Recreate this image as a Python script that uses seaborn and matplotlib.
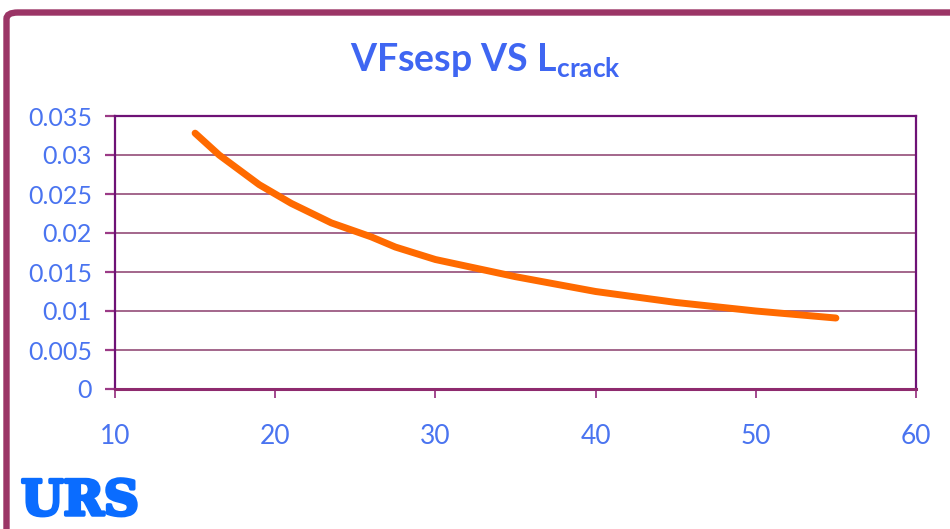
import matplotlib
matplotlib.use("Agg")
import matplotlib.pyplot as plt
from matplotlib.patches import FancyBboxPatch
from matplotlib.ticker import FuncFormatter
import matplotlib.patheffects as pe
import numpy as np
import pandas as pd
import seaborn as sns

# Crack length and VFsesp values
crack_length = [15, 16.5, 19, 21, 23.5, 26, 27.5, 30, 35, 40, 45, 50, 55]
vfsesp = [0.0328, 0.0300, 0.0262, 0.0238, 0.0213, 0.0195, 0.0182,
          0.0166, 0.0144, 0.0125, 0.0111, 0.0100, 0.0091]
x_ticks = [10, 20, 30, 40, 50, 60]
y_ticks = [0, 0.005, 0.01, 0.015, 0.02, 0.025, 0.03, 0.035]

df = pd.DataFrame({"L_crack": crack_length, "VFsesp": vfsesp})

sns.set_style("white")
plt.rcParams["font.family"] = ["Lato", "DejaVu Sans"]

BLUE = "#3f66f2"
TICKBLUE = "#4a74f0"
FRAME = "#9b3566"
PURPLE = "#6e1276"
GRID = "#8a3d6c"

fig = plt.figure(figsize=(9.5, 5.29), dpi=100)
W, H = 950, 529

# outer frame of the slide panel
frame = FancyBboxPatch((6.5 / W, -0.2), 1.5, 1.2 - 12.5 / H,
                       boxstyle="round,pad=0,rounding_size=0.012",
                       transform=fig.transFigure, fill=False,
                       edgecolor=FRAME, linewidth=4.6, zorder=0)
fig.patches.append(frame)

ax = fig.add_axes([115 / W, 1 - 389 / H, (916 - 115) / W, (389 - 116) / H])

sns.lineplot(data=df, x="L_crack", y="VFsesp", ax=ax, color="#ff6a00",
             linewidth=5.0, sort=False, solid_capstyle="round",
             solid_joinstyle="round", zorder=3)

ax.set_xlim(10, 60)
ax.set_ylim(0, 0.035)
ax.set_xticks(x_ticks)
ax.set_yticks(y_ticks)
ax.yaxis.set_major_formatter(FuncFormatter(lambda v, p: f"{v:g}"))
ax.xaxis.set_major_formatter(FuncFormatter(lambda v, p: f"{v:g}"))

ax.set_xlabel("")
ax.set_ylabel("")
ax.grid(axis="y", color=GRID, linewidth=1.1)
ax.grid(axis="x", visible=False)

for side in ["left", "top", "right"]:
    ax.spines[side].set_color(PURPLE)
    ax.spines[side].set_linewidth(1.6)
ax.spines["bottom"].set_color("#8e2a6e")
ax.spines["bottom"].set_linewidth(2.2)

ax.tick_params(axis="y", direction="out", length=7.5, width=1.6,
               color="#9b3a86", pad=9, labelsize=18, labelcolor=TICKBLUE, left=True)
ax.tick_params(axis="x", direction="out", length=6.5, width=1.3,
               color="#9b3a86", pad=19, labelsize=19, labelcolor=TICKBLUE, bottom=True)

# title with subscripted crack length
fig.text(485 / W, 1 - 72 / H, r"VFsesp VS L$_{\mathregular{crack}}$",
         ha="center", va="baseline", color=BLUE, fontsize=27,
         fontweight="bold")

# company logo
fig.text(21 / W, 1 - 515 / H, "URS", ha="left", va="baseline",
         color="#0a6cff", fontsize=35, fontweight="bold",
         family=["DejaVu Serif"],
         path_effects=[pe.withStroke(linewidth=2.5, foreground="#0a6cff")])

fig.savefig("out.png", dpi=100)
